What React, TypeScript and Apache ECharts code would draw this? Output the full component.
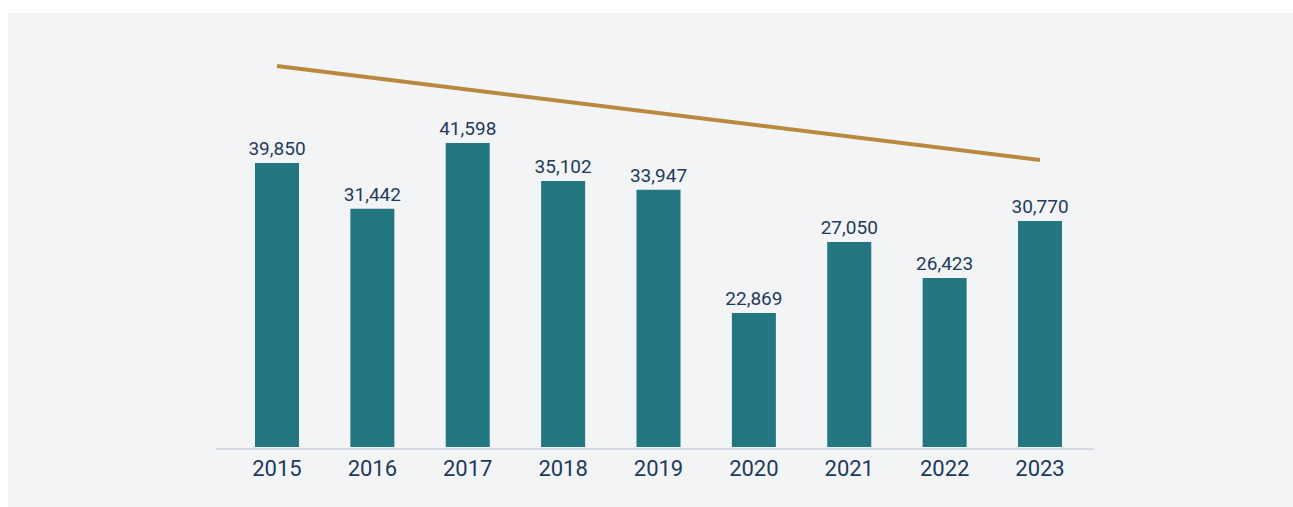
import React, { useEffect, useRef } from "react";
import * as echarts from "echarts";

// Categories (years)
const years = ["2015", "2016", "2017", "2018", "2019", "2020", "2021", "2022", "2023"];
// Printed values above each bar
const labelValues = [39850, 31442, 41598, 35102, 33947, 22869, 27050, 26423, 30770];
// Bar heights as drawn in the picture (estimated from the bars themselves)
const barHeights = [37470, 31442, 40100, 35102, 33947, 17680, 27050, 22300, 29820];
// Trend line end points (first and last year)
const trendLine = [50260, null, null, null, null, null, null, null, 37860];

const fmt = (v: number) => v.toLocaleString("en-US");

export default function App() {
  const ref = useRef<HTMLDivElement>(null);
  useEffect(() => {
    if (!ref.current) return;
    const chart = echarts.init(ref.current, undefined, { renderer: "svg" });
    chart.setOption({
      animation: false,
      backgroundColor: "#f3f4f6",
      grid: { left: 221.3, width: 858.4, top: 39.84, bottom: 60 },
      xAxis: {
        type: "category",
        data: years,
        axisLine: { show: false },
        axisTick: { show: false },
        axisLabel: {
          color: "#1c3a5e",
          fontFamily: "Roboto",
          fontSize: 22,
          margin: 10,
        },
      },
      yAxis: {
        type: "value",
        min: 0,
        max: 52000,
        show: false,
        splitLine: { show: false },
      },
      graphic: [
        {
          type: "line",
          shape: { x1: 208, y1: 436, x2: 1086, y2: 436 },
          style: { stroke: "#d3dae2", lineWidth: 2 },
          z: 0,
        },
      ],
      series: [
        {
          type: "bar",
          data: barHeights,
          barWidth: 44,
          itemStyle: { color: "#227780" },
          z: 2,
          label: {
            show: true,
            position: "top",
            distance: 5,
            color: "#1f3b60",
            fontFamily: "Roboto",
            fontSize: 19,
            formatter: (p: any) => fmt(labelValues[p.dataIndex]),
          },
        },
        {
          type: "line",
          data: trendLine,
          connectNulls: true,
          symbol: "none",
          lineStyle: { color: "#b9893d", width: 4 },
          z: 3,
        },
      ],
    });
    return () => chart.dispose();
  }, []);
  return (
    <div
      ref={ref}
      style={{ position: "fixed", left: 8, top: 13, width: 1285, height: 494 }}
    />
  );
}
